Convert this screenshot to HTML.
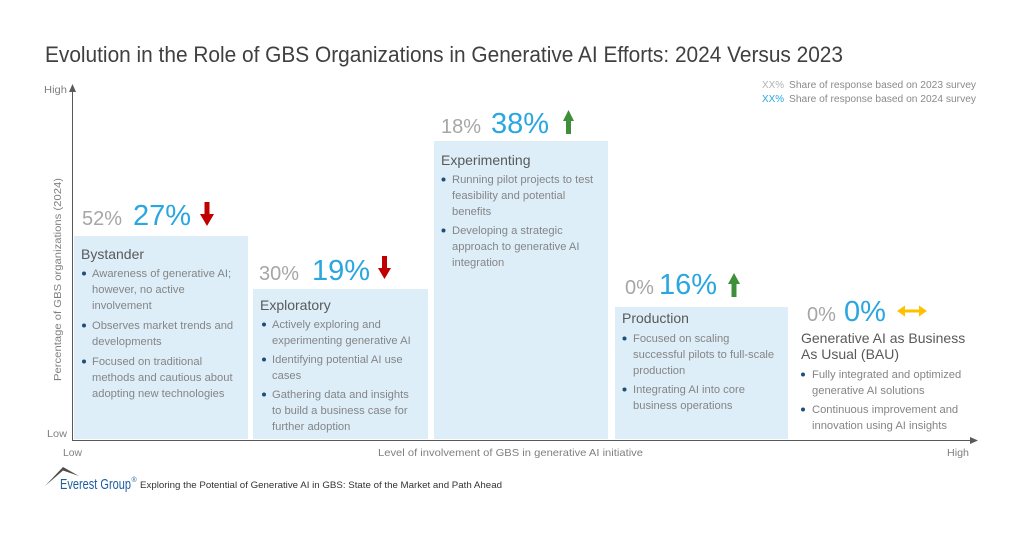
<!DOCTYPE html>
<html>
<head>
<meta charset="utf-8">
<style>
html,body{margin:0;padding:0;background:#fff;}
svg{display:block;}
text{font-family:"Liberation Sans", Arial, sans-serif;}
.b{fill:#858585;font-size:11.2px;}
.h{fill:#595959;font-size:14px;}
.g{fill:#a6a6a6;font-size:20px;}
.n{fill:#2aa6e0;font-size:29px;}
.ax{fill:#7f7f7f;font-size:10.5px;}
</style>
</head>
<body>
<svg width="1022" height="535" viewBox="0 0 1022 535" xmlns="http://www.w3.org/2000/svg">
<rect width="1022" height="535" fill="#fff"/>
<!-- Title -->
<text x="45" y="62" font-size="22" fill="#404040" textLength="798" lengthAdjust="spacingAndGlyphs">Evolution in the Role of GBS Organizations in Generative AI Efforts: 2024 Versus 2023</text>

<!-- Legend -->
<text x="762" y="88" font-size="10" fill="#b0b0b0" textLength="22" lengthAdjust="spacingAndGlyphs">XX%</text>
<text x="789" y="88" font-size="10" fill="#8a8a8a" textLength="187" lengthAdjust="spacingAndGlyphs">Share of response based on 2023 survey</text>
<text x="762" y="102" font-size="10" fill="#2aa6e0" textLength="22" lengthAdjust="spacingAndGlyphs">XX%</text>
<text x="789" y="102" font-size="10" fill="#8a8a8a" textLength="187" lengthAdjust="spacingAndGlyphs">Share of response based on 2024 survey</text>

<!-- Boxes -->
<rect x="74" y="236" width="174" height="203" fill="#ddeef9"/>
<rect x="253" y="289" width="175" height="150" fill="#ddeef9"/>
<rect x="434" y="141" width="174" height="298" fill="#ddeef9"/>
<rect x="615" y="307" width="173" height="132" fill="#ddeef9"/>

<!-- Axes -->
<line x1="72.5" y1="441" x2="72.5" y2="90" stroke="#595959" stroke-width="1"/>
<polygon points="72.5,84 69,92 76,92" fill="#595959"/>
<line x1="72" y1="440.5" x2="972" y2="440.5" stroke="#595959" stroke-width="1"/>
<polygon points="978,440.5 970,437 970,444" fill="#595959"/>
<text x="44" y="93" class="ax" textLength="23" lengthAdjust="spacingAndGlyphs">High</text>
<text x="47" y="437" class="ax" textLength="20" lengthAdjust="spacingAndGlyphs">Low</text>
<text x="63" y="456" class="ax" textLength="19" lengthAdjust="spacingAndGlyphs">Low</text>
<text x="378" y="456" class="ax" textLength="265" lengthAdjust="spacingAndGlyphs">Level of involvement of GBS in generative AI initiative</text>
<text x="947" y="456" class="ax" textLength="22" lengthAdjust="spacingAndGlyphs">High</text>
<text transform="translate(61,381) rotate(-90)" class="ax" font-size="11" textLength="203" lengthAdjust="spacingAndGlyphs">Percentage of GBS organizations (2024)</text>

<!-- Box 1 Bystander -->
<text x="82" y="225" class="g">52%</text>
<text x="133" y="225" class="n">27%</text>
<rect x="204.5" y="202" width="5" height="13" fill="#c00000"/>
<polygon points="200,214 214,214 207,226" fill="#c00000"/>
<text x="81" y="259" class="h">Bystander</text>
<g fill="#1f4e79"><circle cx="84" cy="273.5" r="2"/><circle cx="84" cy="325.5" r="2"/><circle cx="84" cy="361.5" r="2"/></g>
<text x="92" y="277" class="b">Awareness of generative AI;</text>
<text x="92" y="293" class="b">however, no active</text>
<text x="92" y="309" class="b">involvement</text>
<text x="92" y="329" class="b">Observes market trends and</text>
<text x="92" y="345" class="b">developments</text>
<text x="92" y="365" class="b">Focused on traditional</text>
<text x="92" y="381" class="b">methods and cautious about</text>
<text x="92" y="397" class="b">adopting new technologies</text>

<!-- Box 2 Exploratory -->
<text x="259" y="280" class="g">30%</text>
<text x="312" y="280" class="n">19%</text>
<rect x="382" y="256" width="5" height="13" fill="#c00000"/>
<polygon points="378,268 391,268 384.5,279" fill="#c00000"/>
<text x="260" y="310" class="h">Exploratory</text>
<g fill="#1f4e79"><circle cx="264" cy="324.5" r="2"/><circle cx="264" cy="359.5" r="2"/><circle cx="264" cy="394.5" r="2"/></g>
<text x="272" y="328" class="b">Actively exploring and</text>
<text x="272" y="344" class="b">experimenting generative AI</text>
<text x="272" y="363" class="b">Identifying potential AI use</text>
<text x="272" y="379" class="b">cases</text>
<text x="272" y="398" class="b">Gathering data and insights</text>
<text x="272" y="414" class="b">to build a business case for</text>
<text x="272" y="430" class="b">further adoption</text>

<!-- Box 3 Experimenting -->
<text x="441" y="133" class="g">18%</text>
<text x="491" y="133" class="n">38%</text>
<polygon points="563,121 574,121 568.5,110" fill="#3f8f3a"/>
<rect x="566" y="120" width="5" height="14" fill="#3f8f3a"/>
<text x="441" y="165" class="h">Experimenting</text>
<g fill="#1f4e79"><circle cx="443.5" cy="179.5" r="2"/><circle cx="443.5" cy="230.5" r="2"/></g>
<text x="452" y="183" class="b">Running pilot projects to test</text>
<text x="452" y="199" class="b">feasibility and potential</text>
<text x="452" y="215" class="b">benefits</text>
<text x="452" y="234" class="b">Developing a strategic</text>
<text x="452" y="250" class="b">approach to generative AI</text>
<text x="452" y="266" class="b">integration</text>

<!-- Box 4 Production -->
<text x="625" y="294" class="g">0%</text>
<text x="659" y="294" class="n">16%</text>
<polygon points="728,284 740,284 734,273" fill="#3f8f3a"/>
<rect x="731.5" y="283" width="5" height="14" fill="#3f8f3a"/>
<text x="622" y="323" class="h">Production</text>
<g fill="#1f4e79"><circle cx="624.5" cy="338.5" r="2"/><circle cx="624.5" cy="389.5" r="2"/></g>
<text x="633" y="342" class="b">Focused on scaling</text>
<text x="633" y="358" class="b">successful pilots to full-scale</text>
<text x="633" y="374" class="b">production</text>
<text x="633" y="393" class="b">Integrating AI into core</text>
<text x="633" y="409" class="b">business operations</text>

<!-- Box 5 BAU -->
<text x="807" y="321" class="g">0%</text>
<text x="844" y="321" class="n">0%</text>
<rect x="902" y="309.5" width="20" height="3" fill="#ffc000"/>
<polygon points="897,311 905,305.5 905,316.5" fill="#ffc000"/>
<polygon points="927,311 919,305.5 919,316.5" fill="#ffc000"/>
<text x="801" y="343" class="h">Generative AI as Business</text>
<text x="801" y="359" class="h">As Usual (BAU)</text>
<g fill="#1f4e79"><circle cx="803" cy="374.5" r="2"/><circle cx="803" cy="409.5" r="2"/></g>
<text x="812" y="378" class="b">Fully integrated and optimized</text>
<text x="812" y="394" class="b">generative AI solutions</text>
<text x="812" y="413" class="b">Continuous improvement and</text>
<text x="812" y="429" class="b">innovation using AI insights</text>

<!-- Footer logo -->
<polygon points="45,486 63,467 79,476 63,470.5" fill="#4d4d4d"/>
<text x="60" y="489" font-size="15" fill="#1d5c9e" textLength="71" lengthAdjust="spacingAndGlyphs">Everest Group</text>
<text x="131.5" y="482" font-size="7" fill="#1d5c9e">®</text>
<text x="140" y="488" font-size="9" fill="#333" textLength="362" lengthAdjust="spacingAndGlyphs">Exploring the Potential of Generative AI in GBS: State of the Market and Path Ahead</text>
</svg>
</body>
</html>
